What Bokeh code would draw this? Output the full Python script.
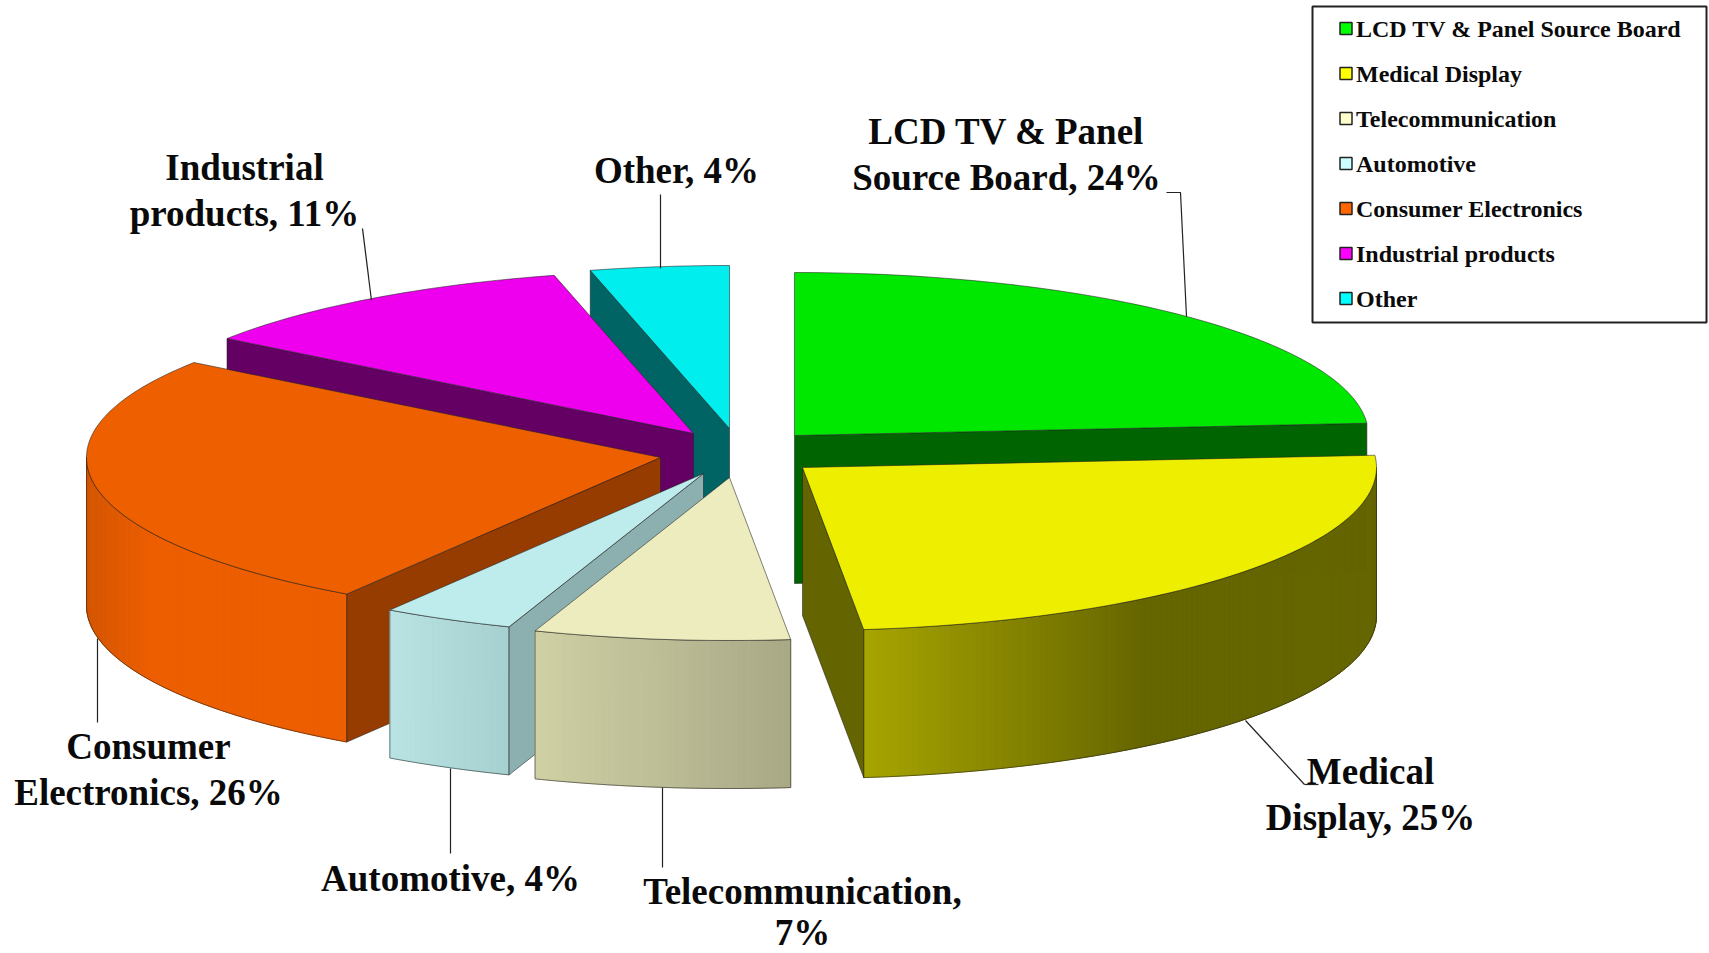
import math
from bokeh.plotting import figure
from bokeh.models import ColumnDataSource, Range1d
from bokeh.core.properties import value
from bokeh.embed import file_html
from bokeh.resources import INLINE

# ---- data ----
categories = ["LCD TV & Panel Source Board", "Medical Display", "Telecommunication",
              "Automotive", "Consumer Electronics", "Industrial products", "Other"]
shares = [23.8, 24.5, 7.2, 3.7, 25.7, 11.2, 3.9]
slice_labels = ["LCD TV & Panel\nSource Board, 24%", "Medical\nDisplay, 25%", "Telecommunication,", "7%",
                "Automotive, 4%", "Consumer\nElectronics, 26%", "Industrial\nproducts, 11%", "Other, 4%"]

# ---- styles ----
top_colors = ["#00e800", "#eeee00", "#ececbe", "#beecec", "#ee5f00", "#ee00ee", "#00eeee"]
legend_colors = ["#00ff00", "#ffff00", "#ffffcc", "#ccffff", "#ff6600", "#ff00ff", "#00ffff"]
cut_colors = ["#006400", "#646400", None, "#8cafaf", "#963c00", "#640064", "#006464"]
# rim shading: (screen x, rgb) stops
rim_stops = {
    1: [(860, (168, 165, 0)), (1145, (101, 101, 0)), (1400, (101, 101, 0))],
    2: [(535, (208, 208, 165)), (790, (168, 168, 134))],
    3: [(388, (186, 228, 228)), (510, (166, 208, 208))],
    4: [(85, (212, 85, 0)), (150, (236, 94, 0)), (350, (236, 94, 0))],
}
# ---- layout (page pixels) ----
apex = [(794, 435), (802, 467), (729, 477), (703, 473), (660, 457), (693, 433), (729, 428)]
RX, RY, DEPTH = 574, 163, 148
draw_order = [6, 5, 4, 0, 3, 2, 1]
label_pos = [(1006, 154), (1370, 794), (802, 891), (802, 932), (450, 878), (148, 769), (244, 190), (676, 170)]
leaders = [
    ([1166, 1180, 1186], [192, 192, 316]),
    ([1245, 1304], [720, 784]),
    ([1304, 1318], [784, 784]),
    ([662, 662], [787, 867]),
    ([450, 450], [768, 853]),
    ([97, 97], [638, 722]),
    ([362, 371], [228, 300]),
    ([660, 660], [194, 268]),
]
legend_box = (1312, 6, 1706, 322)
legend_x, legend_y0, legend_dy, legend_sq = 1345.5, 28, 45, 12

p = figure(width=1709, height=953, output_backend="svg", toolbar_location=None,
           x_range=Range1d(0, 1709), y_range=Range1d(953, 0), min_border=0)
p.axis.visible = False
p.grid.visible = False
p.outline_line_color = None
p.background_fill_color = "white"

total = sum(shares)
edges = [0.0]
for s in shares:
    edges.append(edges[-1] + 360.0 * s / total)


def pt(c, deg, down=0.0):
    t = math.radians(deg)
    return c[0] + RX * math.sin(t), c[1] - RY * math.cos(t) + down


def shade(stops, x):
    if x <= stops[0][0]:
        c = stops[0][1]
    elif x >= stops[-1][0]:
        c = stops[-1][1]
    else:
        for (x0, c0), (x1, c1) in zip(stops, stops[1:]):
            if x0 <= x <= x1:
                f = (x - x0) / (x1 - x0)
                c = tuple(a + (b - a) * f for a, b in zip(c0, c1))
                break
    return "#%02x%02x%02x" % tuple(int(round(v)) for v in c)


EDGE = dict(line_color="#222222", line_width=0.8, line_alpha=0.7)

for i in draw_order:
    a0, a1 = edges[i], edges[i + 1]
    c = apex[i]
    # outer rim, only the part that faces the viewer
    r0, r1 = max(a0, 90.0), min(a1, 270.0)
    if r1 > r0 and i in rim_stops:
        n = max(8, int((r1 - r0) * 1.5))
        angs = [r0 + (r1 - r0) * k / n for k in range(n + 1)]
        xs, ys, cols = [], [], []
        for u, v in zip(angs, angs[1:]):
            x0, y0 = pt(c, u)
            x1, y1 = pt(c, v)
            xs.append([x0, x1, x1, x0])
            ys.append([y0, y1, y1 + DEPTH, y0 + DEPTH])
            cols.append(shade(rim_stops[i], (x0 + x1) / 2))
        src = ColumnDataSource(dict(xs=xs, ys=ys, c=cols))
        p.patches("xs", "ys", source=src, fill_color="c", line_color="c", line_width=1)
        top = [pt(c, u) for u in angs]
        bot = [pt(c, u, DEPTH) for u in reversed(angs)]
        p.patch([q[0] for q in top + bot], [q[1] for q in top + bot], fill_color=None, **EDGE)
    # cut faces towards the viewer
    cut_angles = []
    if math.sin(math.radians(a1)) > 0:
        cut_angles.append(a1)
    if math.sin(math.radians(a0)) < 0:
        cut_angles.append(a0)
    if cut_colors[i]:
        for ang in cut_angles:
            q = pt(c, ang)
            p.patch([c[0], q[0], q[0], c[0]], [c[1], q[1], q[1] + DEPTH, c[1] + DEPTH],
                    fill_color=cut_colors[i], **EDGE)
    # top face
    n = max(8, int(a1 - a0))
    rim = [pt(c, a0 + (a1 - a0) * k / n) for k in range(n + 1)]
    p.patch([c[0]] + [q[0] for q in rim], [c[1]] + [q[1] for q in rim],
            fill_color=top_colors[i], **EDGE)

for lx, ly in leaders:
    p.line(lx, ly, line_color="#222222", line_width=1.2)

p.text([q[0] for q in label_pos], [q[1] for q in label_pos], text=slice_labels,
       text_font=value("Liberation Serif"), text_font_style="bold", text_font_size="37px",
       text_align="center", text_baseline="middle", text_line_height=1.13, text_color="#0a0a0a")

# legend
bx0, by0, bx1, by1 = legend_box
p.quad(left=[bx0], right=[bx1], top=[by0], bottom=[by1], fill_color="white",
       line_color="#222222", line_width=2)
ly = [legend_y0 + legend_dy * k for k in range(len(categories))]
p.rect([legend_x] * len(ly), ly, width=legend_sq, height=legend_sq, fill_color=legend_colors,
       line_color="#222222", line_width=1.5)
p.text([legend_x + 10] * len(ly), ly, text=categories,
       text_font=value("Liberation Serif"), text_font_style="bold", text_font_size="24px",
       text_align="left", text_baseline="middle", text_color="#0a0a0a")

open("out.html", "w").write(file_html(p, INLINE))
